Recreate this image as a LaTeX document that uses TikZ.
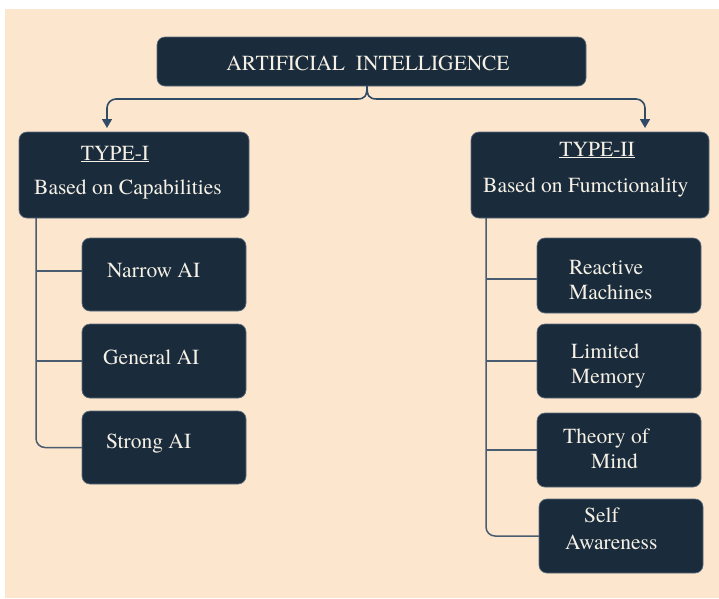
\documentclass[tikz,border=0pt]{standalone}
\usepackage{fontspec}
\newfontfamily\tnr{texgyretermes-regular.otf}
\usetikzlibrary{arrows.meta}
\definecolor{peach}{HTML}{FDE6CE}
\definecolor{navy}{HTML}{1A2B3B}
\definecolor{edgec}{HTML}{5A6B7C}
\definecolor{linec}{HTML}{4A5D70}
\definecolor{arrc}{HTML}{2F4B66}
\definecolor{txtc}{HTML}{F6F1E6}
\begin{document}
\begin{tikzpicture}[x=1pt,y=-1pt,
  box/.style={draw=edgec, line width=0.7pt, fill=navy, rounded corners=8pt, inner sep=0pt, outer sep=0pt, anchor=north west},
  lbl/.style={text=txtc, font=\tnr\fontsize{21.5}{25}\selectfont, inner sep=0pt, anchor=base west},
  clbl/.style={lbl, anchor=base},
  conn/.style={draw=linec, line width=1.5pt},
  arr/.style={draw=arrc, line width=1.6pt, -{Triangle[width=10pt,length=9pt]}}]
\useasboundingbox (0,0) rectangle (719,598);
\fill[white] (0,0) rectangle (719,598);
\fill[peach] (5,9) rectangle (719,598);
% boxes
\node[box, minimum width=429pt, minimum height=49pt] (ai) at (157,37) {};
\node[box, minimum width=230pt, minimum height=86pt] (t1) at (19,132) {};
\node[box, minimum width=238pt, minimum height=86pt] (t2) at (471,132) {};
\node[box, minimum width=164pt, minimum height=73pt] (narrow) at (82,238) {};
\node[box, minimum width=164pt, minimum height=74pt] (general) at (82,324) {};
\node[box, minimum width=164pt, minimum height=73pt] (strong) at (82,411) {};
\node[box, minimum width=164pt, minimum height=75pt] (reactive) at (537,238) {};
\node[box, minimum width=164pt, minimum height=74pt] (limited) at (537,324) {};
\node[box, minimum width=164pt, minimum height=74pt] (theory) at (537,413) {};
\node[box, minimum width=164pt, minimum height=74pt] (self) at (539,499) {};
% texts
\node[clbl] (aitx) at (368,70) {ARTIFICIAL\ \ INTELLIGENCE};
\node[clbl] (t1a) at (115,160) {\underline{TYPE-I}};
\node[lbl] (t1b) at (34,194) {Based on Capabilities};
\node[clbl] (t2a) at (597,156) {\underline{TYPE-II}};
\node[lbl] (t2b) at (483,192) {Based on Fumctionality};
\node[lbl] (n1) at (107,277) {Narrow AI};
\node[lbl] (g1) at (103,364) {General AI};
\node[lbl] (s1) at (106,448) {Strong AI};
\node[lbl] (r1) at (569,274) {Reactive};
\node[lbl] (r2) at (569,299) {Machines};
\node[lbl] (l1) at (571,358) {Limited};
\node[lbl] (l2) at (571,383) {Memory};
\node[lbl] (th1) at (563,443) {Theory of};
\node[lbl] (th2) at (591,468) {Mind};
\node[lbl] (se1) at (584,522) {Self};
\node[lbl] (se2) at (565,549) {Awareness};
% brace and arrows
\coordinate (cusp) at (ai.south -| 367,0);
\coordinate (bl) at (357,99);
\coordinate (br) at (377,99);
\coordinate (al) at (107,128);
\coordinate (ar) at (645,128);
\draw[draw=arrc, line width=1.6pt] (cusp) .. controls (367,96) and (365,99) .. (bl);
\draw[draw=arrc, line width=1.6pt] (cusp) .. controls (367,96) and (369,99) .. (br);
\draw[arr, rounded corners=9pt] (bl) -| (al);
\draw[arr, rounded corners=9pt] (br) -| (ar);
% left tree
\coordinate (lt) at (36,218);
\coordinate (nw) at ([yshift=3.5pt]narrow.west);
\draw[conn, rounded corners=9pt] (lt) |- (strong.west);
\draw[conn] (lt |- nw) -- (nw);
\draw[conn] (lt |- general.west) -- (general.west);
% right tree
\coordinate (rt) at (486,218);
\coordinate (rw) at ([yshift=-3.5pt]reactive.west);
\draw[conn, rounded corners=9pt] (rt) |- (self.west);
\draw[conn] (rt |- rw) -- (rw);
\draw[conn] (rt |- limited.west) -- (limited.west);
\draw[conn] (rt |- theory.west) -- (theory.west);
\end{tikzpicture}
\end{document}
